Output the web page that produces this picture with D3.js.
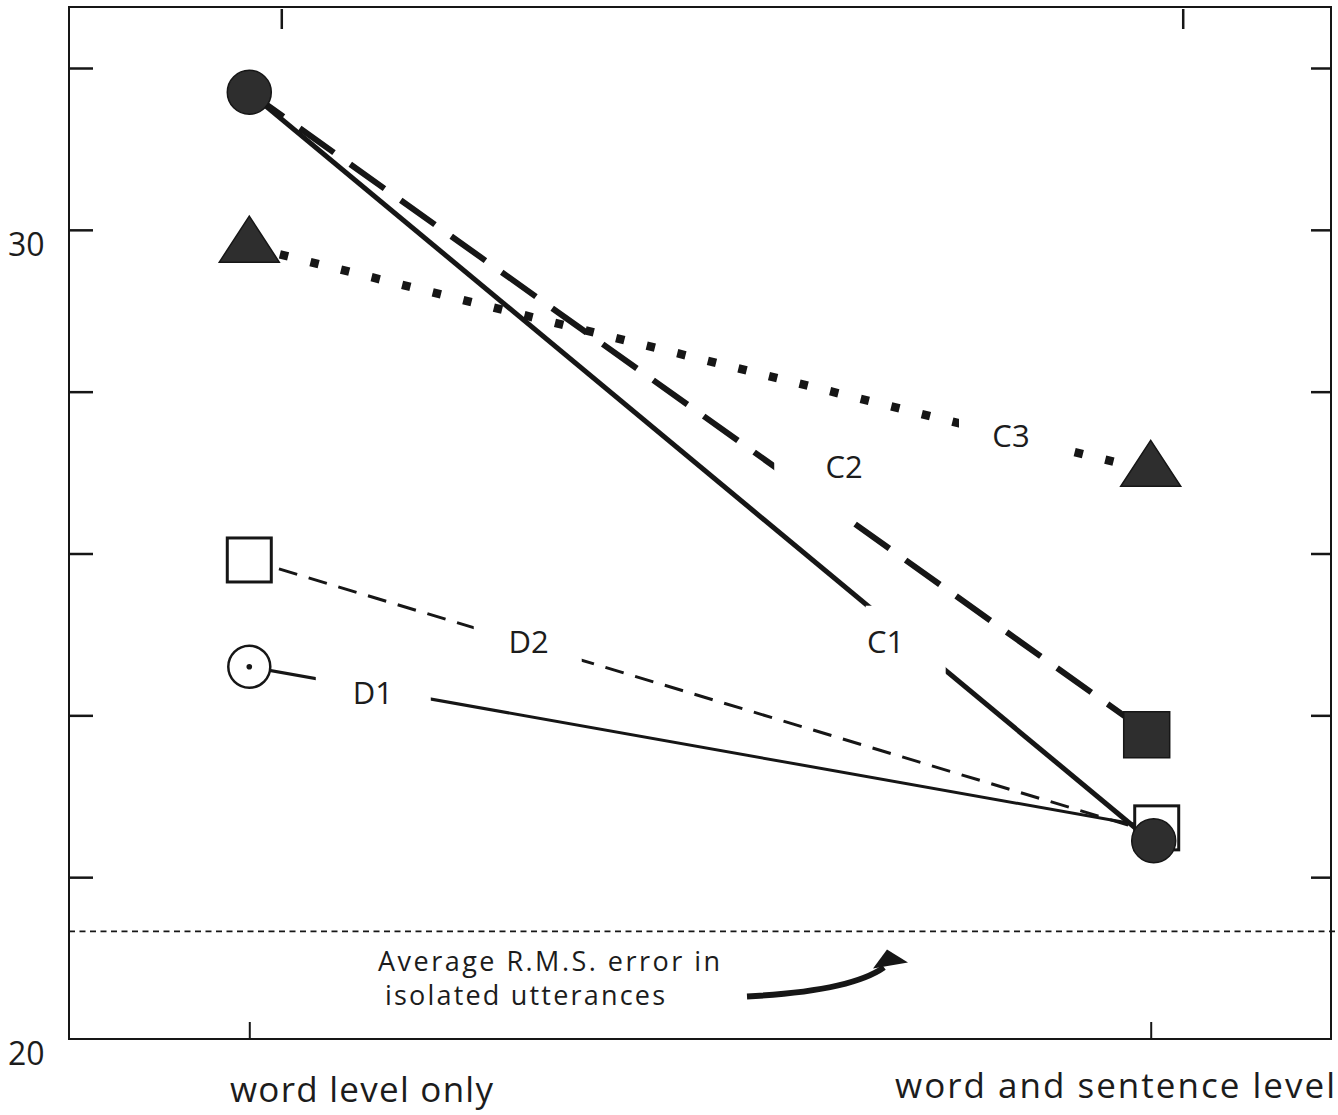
<!DOCTYPE html>
<html>
<head>
<meta charset="utf-8">
<script src="https://cdn.jsdelivr.net/npm/d3@7"></script>
<style>
  html, body { margin: 0; padding: 0; background: #fff; }
  svg { display: block; }
  text { font-family: "Open Sans", "Noto Sans", sans-serif; fill: #1c1c1c; }
</style>
</head>
<body>
<svg id="chart" width="1338" height="1115"></svg>
<script>
// Conditions along the x axis
const categories = ["word level only", "word and sentence level"];

// Average R.M.S. error for each condition
const c1Values = [31.70, 22.45];
const c2Values = [31.70, 23.76];
const c3Values = [29.79, 27.02];
const d1Values = [24.60, 22.62];
const d2Values = [25.92, 22.56];

// Isolated-utterance reference level
const isolatedRms = 21.33;

// Axis ticks and the values that carry a label
const yTicks = [22, 24, 26, 28, 30, 32];
const yTickLabels = [20, 30];

const annotationLines = ["Average R.M.S. error in", "isolated utterances"];

// ---- layout ----
const W = 1338, H = 1115;
const plot = { left: 69, right: 1331, top: 7, bottom: 1039 };
const ink = "#161616";

const svg = d3.select("#chart");

const x = d3.scalePoint()
  .domain(categories)
  .range([plot.left, plot.right])
  .padding(0.2);

const y = d3.scaleLinear()
  .domain([20, 32])
  .range([plot.bottom, 68]);

// ---- frame and ticks ----
svg.append("rect")
  .attr("x", plot.left).attr("y", plot.top)
  .attr("width", plot.right - plot.left)
  .attr("height", plot.bottom - plot.top)
  .attr("fill", "none").attr("stroke", ink).attr("stroke-width", 2);

const leftAxis = d3.axisRight(y).tickValues(yTicks).tickSize(24).tickFormat("");
svg.append("g").attr("transform", `translate(${plot.left},0)`).call(leftAxis)
  .call(g => g.select(".domain").remove())
  .call(g => g.selectAll("line").attr("stroke", ink).attr("stroke-width", 2.5));

const rightAxis = d3.axisLeft(y).tickValues(yTicks).tickSize(20).tickFormat("");
svg.append("g").attr("transform", `translate(${plot.right},0)`).call(rightAxis)
  .call(g => g.select(".domain").remove())
  .call(g => g.selectAll("line").attr("stroke", ink).attr("stroke-width", 2.5));

const bottomAxis = d3.axisTop(x).tickSize(17).tickFormat("");
svg.append("g").attr("transform", `translate(0,${plot.bottom})`).call(bottomAxis)
  .call(g => g.select(".domain").remove())
  .call(g => g.selectAll("line").attr("stroke", ink).attr("stroke-width", 2));

// top ticks sit slightly to the right of the bottom ones
const topAxis = d3.axisBottom(x.copy().range([plot.left + 32, plot.right + 32])).tickSize(20).tickFormat("");
svg.append("g").attr("transform", `translate(0,${plot.top + 2})`).call(topAxis)
  .call(g => g.select(".domain").remove())
  .call(g => g.selectAll("line").attr("stroke", ink).attr("stroke-width", 2.5));

// y labels (only 20 and 30 are printed)
svg.append("g").selectAll("text").data(yTickLabels).join("text")
  .attr("x", 8)
  .attr("y", d => y(d) + 26)
  .attr("font-size", 32)
  .text(d => d);

// category labels
svg.append("text")
  .attr("x", 230).attr("y", 1102)
  .attr("font-size", 35)
  .attr("textLength", 263).attr("lengthAdjust", "spacing")
  .text(categories[0]);
svg.append("text")
  .attr("x", 895).attr("y", 1098)
  .attr("font-size", 35)
  .attr("textLength", 440).attr("lengthAdjust", "spacing")
  .text(categories[1]);

// ---- isolated-utterance reference line ----
svg.append("line")
  .attr("x1", plot.left).attr("x2", W)
  .attr("y1", y(isolatedRms)).attr("y2", y(isolatedRms))
  .attr("stroke", ink).attr("stroke-width", 1.6)
  .attr("stroke-dasharray", "6,4.5");

// ---- series lines ----
const series = [
  { name: "C1", values: c1Values, width: 5,   dash: null,     label: { t: 0.706, dy: 21 },  gap: [-20, -36, 80, 72] },
  { name: "C2", values: c2Values, width: 6,   dash: "42,20",  label: { t: 0.66,  dy: -49 }, gap: [-70, -20, 95, 72] },
  { name: "C3", values: c3Values, width: 8.5, dash: "8.5,23", label: { t: 0.845, dy: 0 },   gap: [-52, -20, 100, 40] },
  { name: "D1", values: d1Values, width: 3,   dash: null,     label: { t: 0.137, dy: 4 },   gap: [-57, -28, 115, 48] },
  { name: "D2", values: d2Values, width: 3,   dash: "19,12",  label: { t: 0.31,  dy: -2 },  gap: [-55, -26, 108, 50] }
];

const line = d3.line().x((d, i) => x(categories[i])).y(d => y(d));

const lineG = svg.append("g");
series.forEach(s => {
  lineG.append("path")
    .datum(s.values)
    .attr("d", line)
    .attr("fill", "none")
    .attr("stroke", ink)
    .attr("stroke-width", s.width)
    .attr("stroke-dasharray", s.dash)
    .attr("stroke-linecap", "butt");
});

// label positions along each line
function labelPos(s) {
  const x0 = x(categories[0]), x1 = x(categories[1]);
  const px = x0 + (x1 - x0) * s.label.t;
  const py = y(s.values[0]) + (y(s.values[1]) - y(s.values[0])) * s.label.t + s.label.dy;
  return [px, py];
}

// white knock-outs so each label interrupts its line
svg.append("g").selectAll("rect").data(series).join("rect")
  .attr("x", s => labelPos(s)[0] + s.gap[0])
  .attr("y", s => labelPos(s)[1] + s.gap[1])
  .attr("width", s => s.gap[2])
  .attr("height", s => s.gap[3])
  .attr("fill", "#fff");

svg.append("g").selectAll("text").data(series).join("text")
  .attr("x", s => labelPos(s)[0])
  .attr("y", s => labelPos(s)[1])
  .attr("dy", "0.35em")
  .attr("text-anchor", "middle")
  .attr("font-size", 31)
  .text(s => s.name);

// ---- markers ----
const markerFill = "#2e2e2e";
const tri = (w, h) => `M0,${-2 * h / 3}L${w / 2},${h / 3}L${-w / 2},${h / 3}Z`;
const mk = svg.append("g");

// D1: open circle with centre dot (its end point lies under the C1 marker)
{
  const g = mk.append("g").attr("transform", `translate(${x(categories[0])},${y(d1Values[0])})`);
  g.append("circle").attr("r", 21).attr("fill", "#fff").attr("stroke", ink).attr("stroke-width", 2.5);
  g.append("circle").attr("r", 2.8).attr("fill", ink);
}

// D2: open square
d2Values.forEach((v, i) => {
  mk.append("rect")
    .attr("x", x(categories[i]) - 22 + (i === 1 ? 6 : 0))
    .attr("y", y(v) - 22 - (i === 1 ? 4 : 0))
    .attr("width", 44).attr("height", 44)
    .attr("fill", "#fff").attr("stroke", ink).attr("stroke-width", 3);
});

// C3: filled triangle
c3Values.forEach((v, i) => {
  mk.append("path")
    .attr("transform", `translate(${x(categories[i])},${y(v)})`)
    .attr("d", tri(60, 46))
    .attr("fill", markerFill).attr("stroke", ink).attr("stroke-width", 1.5);
});

// C2: filled square at the end point
mk.append("rect")
  .attr("x", x(categories[1]) - 27).attr("y", y(c2Values[1]) - 23)
  .attr("width", 46).attr("height", 46)
  .attr("fill", markerFill).attr("stroke", ink).attr("stroke-width", 1.5);

// C1 / C2 shared start point and C1 end point: filled circle
c1Values.forEach((v, i) => {
  mk.append("circle")
    .attr("cx", x(categories[i]) + (i === 1 ? 3 : 0))
    .attr("cy", y(v))
    .attr("r", 22)
    .attr("fill", markerFill).attr("stroke", ink).attr("stroke-width", 1.5);
});

// ---- annotation for the reference level ----
const refY = y(isolatedRms);
const ann = svg.append("g");
ann.selectAll("text").data(annotationLines).join("text")
  .attr("x", (d, i) => 378 + i * 7)
  .attr("y", (d, i) => refY + 40 + i * 34)
  .attr("font-size", 27)
  .attr("textLength", (d, i) => i === 0 ? 342 : 280)
  .attr("lengthAdjust", "spacing")
  .text(d => d);

ann.append("path")
  .attr("d", `M747,${refY + 65} Q850,${refY + 60} 884,${refY + 36}`)
  .attr("fill", "none").attr("stroke", ink).attr("stroke-width", 6)
  .attr("stroke-linecap", "butt");
ann.append("path")
  .attr("d", `M887,${refY + 18} L908,${refY + 31} L873,${refY + 37} Z`)
  .attr("fill", ink);
</script>
</body>
</html>
